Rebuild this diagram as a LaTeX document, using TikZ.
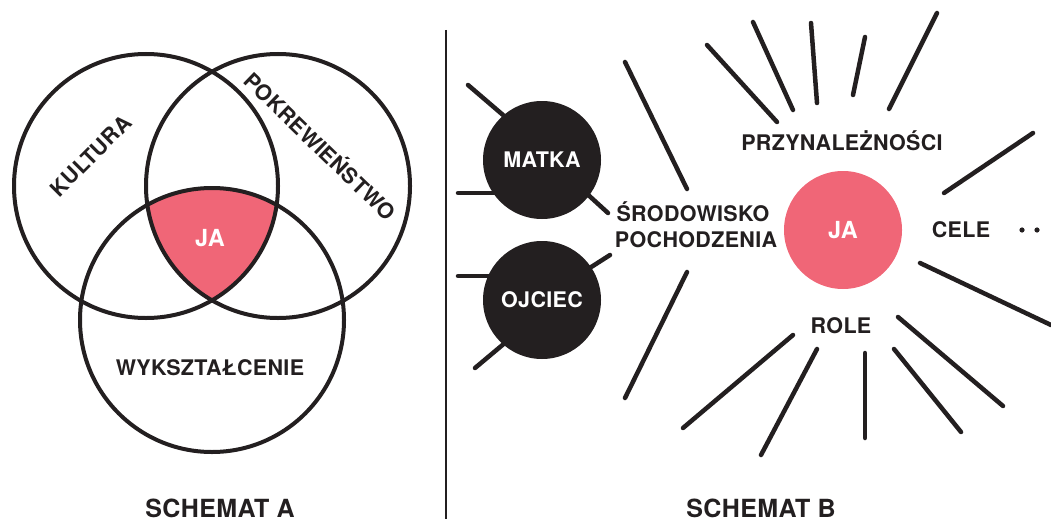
\documentclass[tikz,border=0pt]{standalone}
\usepackage{fontspec}
\setmainfont{TeX Gyre Heros}
\newfontfamily\lblfont[LetterSpace=1.5]{TeX Gyre Heros}
\definecolor{ink}{HTML}{231F20}
\definecolor{pink}{HTML}{F06677}
\begin{document}
\begin{tikzpicture}[x=1pt,y=-1pt,
  venn/.style={circle,draw=ink,line width=4pt,minimum size=264pt,inner sep=0pt},
  lbl/.style={font=\lblfont\bfseries\fontsize{21.5}{24}\selectfont,text=ink,inner sep=0pt,text height=15.5pt,text depth=0pt},
  title/.style={font=\lblfont\bfseries\fontsize{25}{28}\selectfont,text=ink,inner sep=0pt,text height=18pt,text depth=0pt},
  ray/.style={draw=ink,line width=4.5pt,line cap=round},
  person/.style={circle,fill=ink,minimum size=118pt,inner sep=0pt,font=\lblfont\bfseries\fontsize{21.5}{24}\selectfont,text=white,text height=15.5pt,text depth=0pt},
  me/.style={circle,fill=pink,minimum size=118pt,inner sep=0pt,font=\lblfont\bfseries\fontsize{23.5}{26}\selectfont,text=white,text height=17pt,text depth=0pt}]
\useasboundingbox (0,0) rectangle (1051,519);
% ---------- SCHEMAT A ----------
\coordinate (ck) at (146,186);
\coordinate (cp) at (278,186);
\coordinate (cw) at (212,320);
\begin{scope}
  \clip (ck) circle[radius=132pt];
  \clip (cp) circle[radius=132pt];
  \fill[pink] (cw) circle[radius=132pt];
\end{scope}
\node[venn] (kultura) at (ck) {};
\node[venn] (pokrew) at (cp) {};
\node[venn] (wyksz) at (cw) {};
\node[lbl,text=white,font=\lblfont\bfseries\fontsize{23.5}{26}\selectfont,text height=17pt] (jaA) at (210,238) {JA};
\node[lbl,rotate=45] (tk) at (91,156) {KULTURA};
\node[lbl,rotate=-44] (tp) at (320,147) {POKREWIEŃSTWO};
\node[lbl] (tw) at (210,368) {WYKSZTAŁCENIE};
\node[title] (sa) at (220,508) {SCHEMAT A};
% separator
\coordinate (s1) at (446,30);
\coordinate (s2) at (446,519);
\draw[ink,line width=2.5pt] (s1) -- (s2);
% ---------- SCHEMAT B ----------
% lines behind parents
\draw[ray] (468,85) -- (510,121);
\draw[ray] (458,193) -- (500,193);
\draw[ray] (608,213) -- (585,192);
\draw[ray] (458,276) -- (500,276);
\draw[ray] (610,255) -- (585,271);
\draw[ray] (475,368) -- (512,337);
\node[person] (matka) at (542,160) {MATKA};
\node[person] (ojciec) at (542,300) {OJCIEC};
% rays around JA
\draw[ray] (625,62) -- (687,189);
\draw[ray] (707,45) -- (777,122);
\draw[ray] (753,22) -- (793,110);
\draw[ray] (811,23) -- (817,103);
\draw[ray] (865,37) -- (853,95);
\draw[ray] (937,13) -- (889,109);
\draw[ray] (1033,133) -- (944,193);
\draw[ray] (920,263) -- (1051,325);
\draw[ray] (898,317) -- (1003,406);
\draw[ray] (894,349) -- (961,432);
\draw[ray] (865,353) -- (865,438);
\draw[ray] (817,349) -- (761,455);
\draw[ray] (793,335) -- (683,428);
\draw[ray] (687,272) -- (625,398);
\node[me] (ja) at (843,230) {JA};
\node[lbl] (srod) at (693,213.5) {ŚRODOWISKO};
\node[lbl] (poch) at (696,239.5) {POCHODZENIA};
\node[lbl] (przyn) at (842,143) {PRZYNALEŻNOŚCI};
\node[lbl] (cele) at (961,230) {CELE};
\node[lbl] (role) at (841,326) {ROLE};
\fill[ink] (1022,230) circle[radius=2.6pt];
\fill[ink] (1037,230) circle[radius=2.6pt];
\node[title] (sb) at (761,508) {SCHEMAT B};
\end{tikzpicture}
\end{document}
